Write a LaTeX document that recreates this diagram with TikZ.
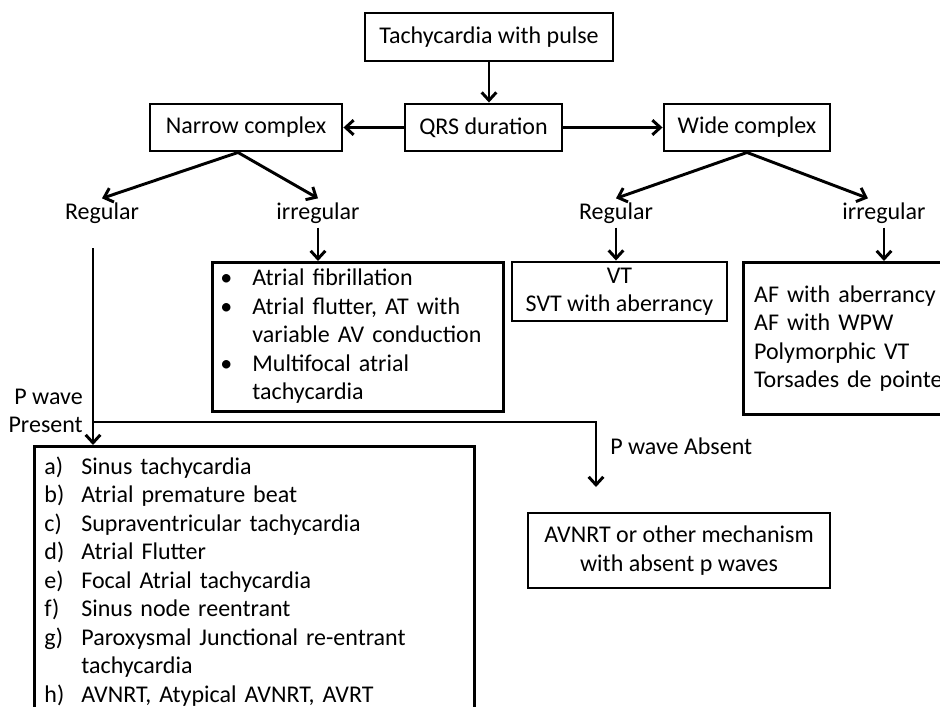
\documentclass[tikz,border=0pt]{standalone}
\usepackage{fontspec}
\setmainfont{Carlito}
\usepackage{tikz}
\usetikzlibrary{positioning,arrows.meta,calc}

\begin{document}
\begin{tikzpicture}[
  x=0.75pt,y=-0.75pt,
  font=\fontsize{18}{21.4}\selectfont,
  >={Straight Barb[length=6pt,width=11pt]},
  box/.style={draw,line width=2.2pt,inner sep=3pt,align=center},
  lbox/.style={box,align=left,inner ysep=0pt},
  lbl/.style={inner sep=3pt},
  arr/.style={->,line width=2.2pt},
]
  \useasboundingbox (0,0) rectangle (940,707);

  \node[box,minimum width=186pt,minimum height=36pt] (title) at (489,37) {Tachycardia with pulse};
  \node[box,minimum width=117.75pt,minimum height=35.25pt] (qrs) at (483.5,127.5) {QRS duration};
  \node[box,minimum width=144pt,minimum height=35.25pt] (narrow) at (246,127.5) {Narrow complex};
  \node[box,minimum width=124.5pt,minimum height=35.25pt] (wide) at (747,127.5) {Wide complex};

  \draw[arr] (title.south) -- (title.south |- qrs.north);
  \draw[arr] (qrs.west) -- (narrow.east);
  \draw[arr] (qrs.east) -- (wide.west);

  \node[lbl] (regL) at (102,213) {Regular};
  \node[lbl] (irrL) at (318,213) {irregular};
  \node[lbl] (regR) at (616,213) {Regular};
  \node[lbl] (irrR) at (884,213) {irregular};

  \draw[arr] ([xshift=-6pt]narrow.south) -- (regL.north);
  \draw[arr] ([xshift=-6pt]narrow.south) -- (irrL.north);
  \draw[arr] (wide.south) -- (regR.north);
  \draw[arr] (wide.south) -- ([xshift=-12pt]irrR.north);

  \node[lbox,text width=206.25pt,inner xsep=6pt,minimum height=111.75pt,anchor=north west]
    (irrbox) at (211,261)
    {\begin{tabular}{@{}l@{\hspace{15pt}}l@{}}
      \textbullet & Atrial fibrillation\\
      \textbullet & Atrial flutter, AT with\\
                  & variable AV conduction\\
      \textbullet & Multifocal atrial\\
                  & tachycardia
    \end{tabular}};
  \node[box,minimum width=161.25pt,minimum height=44.25pt] (vtbox) at (619.5,291.5)
    {VT\\SVT with aberrancy};
  \node[lbox,text width=150pt,inner xsep=8pt,minimum height=114pt,anchor=north west]
    (afbox) at (742,261)
    {AF with aberrancy\\AF with WPW\\Polymorphic VT\\Torsades de pointes};

  \draw[arr] (irrL.south) -- (irrL.south |- irrbox.north);
  \draw[arr] (regR.south) -- (regR.south |- vtbox.north);
  \draw[arr] (irrR.south) -- (irrR.south |- afbox.north);

  \coordinate (ptop) at (93,248);
  \coordinate (pjoin) at (93,422);
  \coordinate (pabs) at (596,487);

  \node[lbox,text width=315pt,inner xsep=7.5pt,inner ysep=5.8pt,anchor=north west]
    (sinus) at (33,445)
    {\begin{tabular}{@{}l@{\hspace{12.75pt}}l@{}}
      a) & Sinus tachycardia\\
      b) & Atrial premature beat\\
      c) & Supraventricular tachycardia\\
      d) & Atrial Flutter\\
      e) & Focal Atrial tachycardia\\
      f) & Sinus node reentrant\\
      g) & Paroxysmal Junctional re-entrant\\
         & tachycardia\\
      h) & AVNRT, Atypical AVNRT, AVRT\\
         & \\
    \end{tabular}};
  \node[box,minimum width=226.5pt,minimum height=56.25pt] (avnrt) at (679,550.5)
    {AVNRT or other mechanism\\with absent p waves};

  \draw[arr] (ptop) -- (ptop |- sinus.north);
  \draw[arr] (pjoin) -| (pabs);

  \node[inner sep=0pt,align=right,anchor=east,font=\fontsize{18}{21}\selectfont] (ppres) at (83,411) {P wave\\Present};
  \node[inner sep=0pt,anchor=west] (pabsent) at (610,446) {P wave Absent};
\end{tikzpicture}
\end{document}
